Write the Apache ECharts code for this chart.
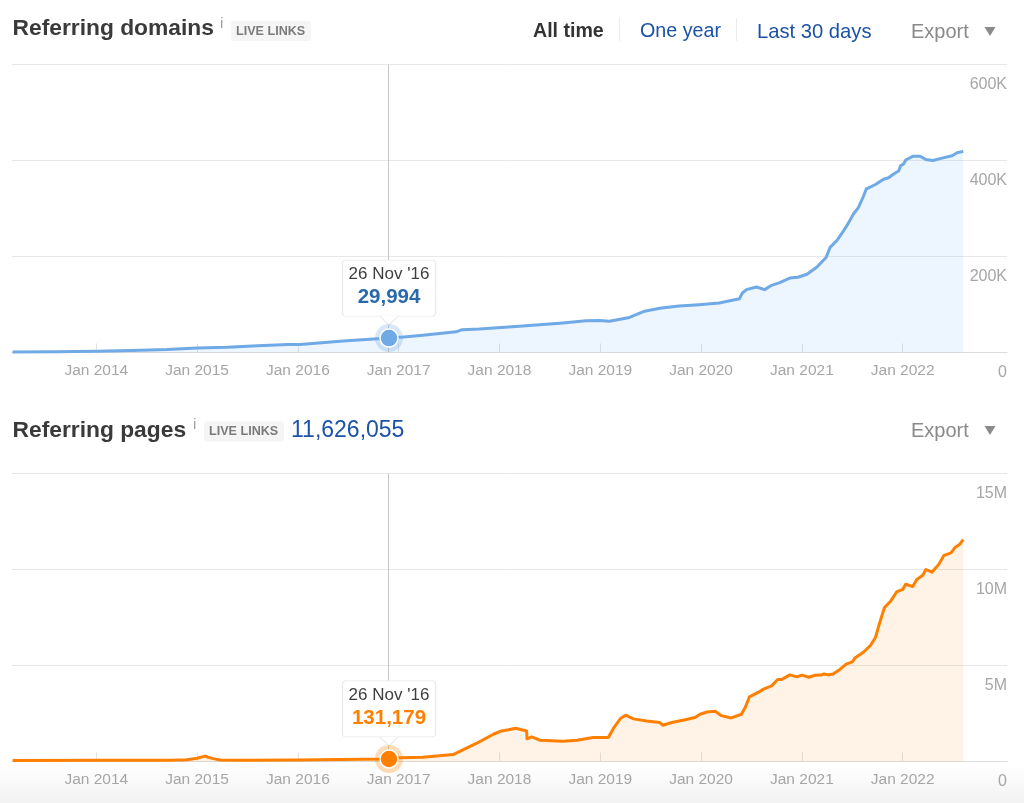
<!DOCTYPE html>
<html>
<head>
<meta charset="utf-8">
<title>Referring domains and pages</title>
<style>
  html, body { margin: 0; padding: 0; background: #fff; }
  #chart-container { width: 1024px; height: 803px; }
</style>
<script src="https://cdn.jsdelivr.net/npm/echarts@6/dist/echarts.min.js"></script>
</head>
<body>
<div id="chart-container"></div>
<script>
// values, dates as decimal years
var domainYears = [2013.17, 2013.6, 2014, 2014.35, 2014.7, 2015, 2015.3, 2015.6, 2015.9, 2016.02, 2016.45, 2016.904,
    2017.02, 2017.24, 2017.57, 2017.63, 2017.8, 2018.16, 2018.6, 2018.86, 2018.99, 2019.09, 2019.29, 2019.44, 2019.59,
    2019.78, 2019.98, 2020.18, 2020.38, 2020.41, 2020.45, 2020.55, 2020.63, 2020.7, 2020.78, 2020.88, 2020.96, 2021.05,
    2021.15, 2021.24, 2021.28, 2021.35, 2021.4, 2021.46, 2021.51, 2021.56, 2021.61, 2021.64, 2021.73, 2021.81, 2021.86,
    2021.91, 2021.96, 2021.98, 2022.01, 2022.03, 2022.105, 2022.17, 2022.23, 2022.3, 2022.39, 2022.49, 2022.54, 2022.6];
var domainValues = [1000, 1500, 2500, 4000, 6000, 9400, 11000, 14000, 16500, 16700, 24000, 29994,
    32000, 36000, 43000, 47500, 49000, 54000, 61000, 66000, 66500, 65000, 73000, 86000, 92000,
    97000, 99700, 103000, 112000, 124000, 131000, 136500, 131000, 140000, 145600, 155000, 156700, 163000,
    178000, 198000, 219000, 234000, 249000, 269000, 288000, 302000, 325000, 341000, 350000, 361000, 364000,
    372000, 378000, 389000, 393000, 401000, 409000, 409000, 402000, 400000, 405000, 410000, 416000, 419000];

var pageYears = [2013.17, 2014, 2014.73, 2014.9, 2015, 2015.08, 2015.11, 2015.16, 2015.23, 2015.43, 2016, 2016.42, 2016.904,
    2017.01, 2017.24, 2017.54, 2017.77, 2017.94, 2018.02, 2018.09, 2018.16, 2018.27, 2018.273, 2018.32, 2018.4, 2018.63,
    2018.77, 2018.93, 2019.08, 2019.13, 2019.2, 2019.25, 2019.33, 2019.46, 2019.59, 2019.62, 2019.71, 2019.82, 2019.94,
    2019.99, 2020.06, 2020.14, 2020.2, 2020.3, 2020.4, 2020.44, 2020.48, 2020.57, 2020.62, 2020.7, 2020.76, 2020.8,
    2020.88, 2020.95, 2021, 2021.07, 2021.13, 2021.19, 2021.22, 2021.26, 2021.31, 2021.38, 2021.44, 2021.5, 2021.53,
    2021.61, 2021.68, 2021.73, 2021.76, 2021.79, 2021.82, 2021.88, 2021.94, 2022, 2022.03, 2022.06, 2022.1, 2022.14,
    2022.2, 2022.23, 2022.29, 2022.36, 2022.41, 2022.48, 2022.52, 2022.57, 2022.6];
var pageValues = [50000, 60000, 70000, 90000, 170000, 280000, 220000, 150000, 80000, 60000, 80000, 110000, 131179,
    190000, 220000, 360000, 940000, 1420000, 1590000, 1650000, 1730000, 1590000, 1180000, 1280000, 1110000, 1060000,
    1110000, 1250000, 1250000, 1720000, 2240000, 2410000, 2220000, 2110000, 2030000, 1890000, 2030000, 2150000, 2290000,
    2460000, 2580000, 2620000, 2390000, 2270000, 2460000, 2840000, 3370000, 3610000, 3770000, 3940000, 4270000, 4270000,
    4510000, 4410000, 4500000, 4390000, 4490000, 4500000, 4560000, 4510000, 4560000, 4810000, 5070000, 5190000, 5410000,
    5690000, 6040000, 6460000, 7010000, 7530000, 8020000, 8350000, 8830000, 8960000, 9230000, 9180000, 9110000, 9480000,
    9700000, 10000000, 9860000, 10280000, 10740000, 10870000, 11150000, 11330000, 11560000];

var tickYears = [2014, 2015, 2016, 2017, 2018, 2019, 2020, 2021, 2022];
var focusYear = 2016.904;
var focusLabel = "26 Nov '16";
var focusDomains = 29994;
var focusPages = 131179;
var pagesTotal = '11,626,055';

var FONT = '"Liberation Sans", Arial, sans-serif';

function zipData(years, values) {
    return years.map(function (y, i) { return [y, values[i]]; });
}

function makeXAxis(gridIndex) {
    return {
        type: 'value',
        gridIndex: gridIndex,
        min: 2013.164,
        max: 2023.035,
        axisLine: { show: true, onZero: false, lineStyle: { color: '#dcdcdc', width: 1 } },
        axisTick: {
            show: true,
            inside: true,
            length: 9,
            lineStyle: { color: '#e2e2e2', width: 1 },
            customValues: tickYears
        },
        axisLabel: {
            color: '#a6a6a6',
            fontSize: 15.5,
            fontFamily: FONT,
            margin: 10,
            customValues: tickYears,
            formatter: function (v) { return 'Jan ' + v; }
        },
        splitLine: { show: false }
    };
}

function makeYAxis(gridIndex, max, interval, fmt) {
    return {
        type: 'value',
        gridIndex: gridIndex,
        position: 'right',
        min: 0,
        max: max,
        interval: interval,
        axisLine: { show: false },
        axisTick: { show: false },
        axisLabel: {
            inside: true,
            margin: 0,
            color: '#a6a6a6',
            fontSize: 16,
            fontFamily: FONT,
            verticalAlign: 'top',
            padding: [12, 0, 0, 0],
            formatter: fmt
        },
        splitLine: { show: true, lineStyle: { color: '#e8e8e8', width: 1 } }
    };
}

function makeSeries(index, data, color, fill, valueColor, focusValue) {
    var coord = [focusYear, focusValue];
    return {
        type: 'line',
        xAxisIndex: index,
        yAxisIndex: index,
        data: data,
        showSymbol: false,
        smooth: false,
        lineStyle: { color: color, width: 3, join: 'round' },
        areaStyle: { color: fill, opacity: 1 },
        markLine: {
            silent: true,
            symbol: 'none',
            animation: false,
            label: { show: false },
            lineStyle: { color: '#c6c6c6', width: 1, type: 'solid' },
            data: [{ xAxis: focusYear }]
        },
        markPoint: {
            silent: true,
            animation: false,
            data: [
                {   // tooltip box
                    coord: coord,
                    symbol: 'path://M2 0H91L93 2V54L91 56H2L0 54V2Z',
                    symbolSize: [93, 56],
                    symbolOffset: [0, -50],
                    itemStyle: { color: '#fff', borderColor: '#e9e9e9', borderWidth: 1 },
                    label: {
                        show: true,
                        position: 'inside',
                        offset: [0, -2],
                        formatter: '{d|' + focusLabel + '}\n{v|' + focusValue.toLocaleString('en-US') + '}',
                        rich: {
                            d: { fontSize: 17, lineHeight: 22, color: '#3f3f3f', fontFamily: FONT },
                            v: { fontSize: 20.5, lineHeight: 23, fontWeight: 'bold', color: valueColor, fontFamily: FONT }
                        }
                    }
                },
                {   // notch under the box
                    coord: coord,
                    symbol: 'path://M0 0L9 9L18 0',
                    symbolSize: [18, 9],
                    symbolOffset: [0, -17.5],
                    itemStyle: { color: '#fff', borderColor: '#e9e9e9', borderWidth: 1 },
                    label: { show: false }
                },
                {   // halo
                    coord: coord,
                    symbol: 'circle',
                    symbolSize: 28,
                    itemStyle: { color: color, opacity: 0.28 },
                    label: { show: false }
                },
                {   // dot
                    coord: coord,
                    symbol: 'circle',
                    symbolSize: 18,
                    itemStyle: { color: color, borderColor: '#fff', borderWidth: 1.5 },
                    label: { show: false }
                }
            ]
        }
    };
}

function text(str, x, y, font, fill, align) {
    return {
        type: 'text',
        silent: true,
        style: { text: str, x: x, y: y, font: font, fill: fill, textAlign: align || 'left', textVerticalAlign: 'middle' }
    };
}

function badge(x, y) {
    return [
        { type: 'rect', silent: true, shape: { x: x, y: y, width: 80, height: 20, r: 3 }, style: { fill: '#f5f5f5' } },
        text('LIVE LINKS', x + 5, y + 10.5, 'bold 12.6px ' + FONT, '#7b7b7b')
    ];
}

function exportButton(y) {
    return [
        text('Export', 911, y + 1, '20px ' + FONT, '#8a8a8a'),
        { type: 'polygon', silent: true, shape: { points: [[984.5, y - 4], [995.5, y - 4], [990, y + 5]] }, style: { fill: '#8a8a8a' } }
    ];
}

function separator(x) {
    return { type: 'line', silent: true, shape: { x1: x, y1: 18, x2: x, y2: 41 }, style: { stroke: '#ececec', lineWidth: 1 } };
}

var headerItems = [
    // soft shade at the very bottom of the page
    {
        type: 'rect', silent: true, z: -10,
        shape: { x: 0, y: 765, width: 1024, height: 38 },
        style: { fill: new echarts.graphic.LinearGradient(0, 0, 0, 1, [{ offset: 0, color: '#ffffff' }, { offset: 1, color: '#f2f2f2' }]) }
    },
    text('Referring domains', 12.5, 29, 'bold 22.8px ' + FONT, '#3a3a3a'),
    text('i', 220, 24, '15px ' + FONT, '#a0a0a0'),
    text('All time', 533, 32, 'bold 19.6px ' + FONT, '#333333'),
    separator(619.5),
    text('One year', 640, 32, '19.7px ' + FONT, '#1c52a6'),
    separator(736.5),
    text('Last 30 days', 757, 32, '20.2px ' + FONT, '#1c52a6'),
    text('Referring pages', 12.5, 431, 'bold 22.8px ' + FONT, '#3a3a3a'),
    text('i', 193, 425, '15px ' + FONT, '#a0a0a0'),
    text(pagesTotal, 291, 431, '23px ' + FONT, '#1c52a6')
].concat(badge(231, 21), badge(204, 421.5), exportButton(31), exportButton(430));

var dom = document.getElementById('chart-container');
var myChart = echarts.init(dom, null, { renderer: 'canvas' });

myChart.setOption({
    animation: false,
    backgroundColor: '#fff',
    textStyle: { fontFamily: FONT },
    grid: [
        { left: 12, right: 17, top: 64.5, height: 288 },
        { left: 12, right: 17, top: 473.5, height: 288 }
    ],
    xAxis: [makeXAxis(0), makeXAxis(1)],
    yAxis: [
        makeYAxis(0, 600000, 200000, function (v) { return v === 0 ? '0' : (v / 1000) + 'K'; }),
        makeYAxis(1, 15000000, 5000000, function (v) { return v === 0 ? '0' : (v / 1000000) + 'M'; })
    ],
    series: [
        makeSeries(0, zipData(domainYears, domainValues), '#6fa9e6', 'rgba(110,175,245,0.125)', '#2a6aa8', focusDomains),
        makeSeries(1, zipData(pageYears, pageValues), '#ff8000', 'rgba(255,128,0,0.095)', '#ff8000', focusPages)
    ],
    graphic: headerItems
});
</script>
</body>
</html>
